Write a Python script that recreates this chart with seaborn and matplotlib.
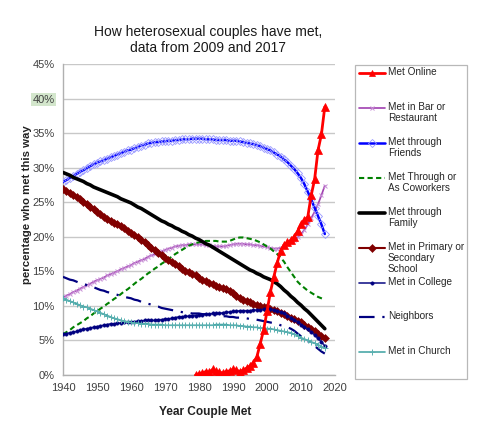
import matplotlib
matplotlib.use("Agg")
import matplotlib.pyplot as plt
import seaborn as sns
import pandas as pd
from matplotlib.lines import Line2D
from matplotlib.patches import Rectangle

# ---------------- data (percent, one value per year 1940..2017) ----------------
years = list(range(1940, 2018))

bar_restaurant = [11.2, 11.5, 11.7, 12.0, 12.2, 12.5, 12.7, 13.0, 13.2, 13.5,
                  13.7, 13.9, 14.1, 14.4, 14.6, 14.8, 15.0, 15.3, 15.5, 15.7,
                  15.9, 16.2, 16.4, 16.6, 16.8, 17.1, 17.3, 17.5, 17.7, 17.9,
                  18.1, 18.3, 18.4, 18.6, 18.7, 18.8, 18.8, 18.9, 18.9, 18.9,
                  18.9, 18.9, 18.8, 18.8, 18.7, 18.6, 18.6, 18.6, 18.7, 18.8,
                  18.9, 19.0, 19.0, 19.0, 18.9, 18.9, 18.8, 18.8, 18.7, 18.6,
                  18.5, 18.4, 18.3, 18.3, 18.4, 18.6, 18.9, 19.2, 19.5, 19.9,
                  20.4, 21.0, 21.8, 22.7, 23.6, 24.7, 26.0, 27.4]

friends = [27.9, 28.2, 28.5, 28.8, 29.1, 29.4, 29.6, 29.9, 30.2, 30.5,
           30.7, 30.9, 31.1, 31.3, 31.5, 31.7, 31.9, 32.1, 32.3, 32.5,
           32.6, 32.8, 33.0, 33.2, 33.3, 33.5, 33.6, 33.7, 33.7, 33.8,
           33.8, 33.9, 33.9, 34.0, 34.0, 34.1, 34.1, 34.1, 34.2, 34.2,
           34.2, 34.2, 34.1, 34.1, 34.1, 34.0, 34.0, 34.0, 34.0, 33.9,
           33.9, 33.9, 33.8, 33.7, 33.6, 33.5, 33.4, 33.3, 33.1, 32.9,
           32.7, 32.5, 32.2, 31.9, 31.6, 31.2, 30.8, 30.3, 29.8, 29.2,
           28.5, 27.6, 26.5, 25.4, 24.2, 23.0, 21.8, 20.4]

coworkers = [5.9, 6.2, 6.5, 6.9, 7.2, 7.5, 7.8, 8.2, 8.5, 8.9,
             9.2, 9.6, 9.9, 10.3, 10.6, 11.0, 11.3, 11.7, 12.1, 12.4,
             12.8, 13.2, 13.6, 13.9, 14.3, 14.7, 15.0, 15.4, 15.7, 16.1,
             16.4, 16.8, 17.1, 17.5, 17.8, 18.1, 18.4, 18.7, 18.9, 19.1,
             19.2, 19.3, 19.4, 19.4, 19.4, 19.4, 19.3, 19.3, 19.3, 19.4,
             19.6, 19.8, 19.9, 19.9, 19.8, 19.7, 19.6, 19.4, 19.2, 18.9,
             18.6, 18.3, 17.9, 17.5, 17.0, 16.4, 15.6, 14.9, 14.2, 13.5,
             13.0, 12.6, 12.2, 11.9, 11.6, 11.3, 11.1, 10.9]

family = [29.3, 29.1, 28.9, 28.6, 28.4, 28.2, 28.0, 27.7, 27.5, 27.2,
          27.0, 26.8, 26.6, 26.4, 26.2, 26.0, 25.8, 25.5, 25.3, 25.1,
          24.9, 24.6, 24.3, 24.1, 23.8, 23.5, 23.2, 22.9, 22.6, 22.3,
          22.1, 21.8, 21.6, 21.3, 21.1, 20.8, 20.6, 20.3, 20.1, 19.8,
          19.6, 19.3, 19.0, 18.8, 18.5, 18.2, 17.9, 17.6, 17.3, 17.0,
          16.7, 16.4, 16.1, 15.8, 15.5, 15.2, 15.0, 14.7, 14.5, 14.2,
          14.0, 13.8, 13.5, 13.2, 12.8, 12.3, 11.9, 11.4, 11.0, 10.5,
          10.1, 9.6, 9.2, 8.7, 8.2, 7.7, 7.2, 6.7]

school = [26.9, 26.6, 26.3, 26.0, 25.7, 25.4, 25.0, 24.7, 24.3, 24.0,
          23.6, 23.3, 22.9, 22.6, 22.3, 22.0, 21.8, 21.5, 21.2, 20.9,
          20.6, 20.3, 19.9, 19.6, 19.2, 18.8, 18.4, 18.1, 17.7, 17.4,
          17.0, 16.6, 16.3, 16.0, 15.7, 15.4, 15.1, 14.9, 14.6, 14.4,
          14.1, 13.8, 13.6, 13.3, 13.1, 12.9, 12.7, 12.6, 12.4, 12.1,
          11.8, 11.5, 11.2, 10.9, 10.7, 10.5, 10.3, 10.1, 10.0, 9.9,
          9.8, 9.6, 9.4, 9.2, 9.0, 8.8, 8.6, 8.3, 8.1, 7.8,
          7.6, 7.3, 7.0, 6.7, 6.3, 6.0, 5.6, 5.3]

college = [5.9, 6.0, 6.1, 6.2, 6.3, 6.5, 6.6, 6.7, 6.8, 6.9,
           7.0, 7.1, 7.2, 7.3, 7.4, 7.4, 7.5, 7.5, 7.6, 7.6,
           7.7, 7.7, 7.8, 7.8, 7.9, 7.9, 7.9, 7.9, 8.0, 8.0,
           8.1, 8.1, 8.2, 8.3, 8.4, 8.4, 8.5, 8.5, 8.6, 8.6,
           8.7, 8.7, 8.8, 8.8, 8.9, 8.9, 8.9, 9.0, 9.1, 9.1,
           9.2, 9.2, 9.3, 9.3, 9.3, 9.3, 9.4, 9.4, 9.4, 9.5,
           9.5, 9.5, 9.4, 9.3, 9.1, 8.9, 8.6, 8.3, 8.0, 7.7,
           7.3, 7.0, 6.6, 6.2, 5.8, 5.3, 4.8, 4.2]

neighbors = [14.2, 14.0, 13.8, 13.7, 13.5, 13.3, 13.2, 13.0, 12.8, 12.7,
             12.5, 12.3, 12.2, 12.0, 11.9, 11.7, 11.6, 11.4, 11.3, 11.2,
             11.1, 10.9, 10.8, 10.6, 10.5, 10.3, 10.2, 10.0, 9.9, 9.7,
             9.6, 9.5, 9.4, 9.3, 9.2, 9.1, 9.0, 9.0, 8.9, 8.9,
             8.9, 8.8, 8.8, 8.7, 8.7, 8.6, 8.6, 8.5, 8.5, 8.4,
             8.4, 8.3, 8.3, 8.2, 8.2, 8.1, 8.1, 8.0, 7.9, 7.8,
             7.7, 7.6, 7.5, 7.4, 7.2, 7.1, 6.9, 6.7, 6.4, 6.0,
             5.6, 5.3, 4.9, 4.6, 4.2, 3.8, 3.4, 3.1]

church = [11.1, 10.9, 10.7, 10.5, 10.3, 10.1, 9.9, 9.8, 9.6, 9.4,
          9.2, 9.0, 8.8, 8.6, 8.4, 8.2, 8.1, 7.9, 7.8, 7.7,
          7.6, 7.5, 7.5, 7.4, 7.4, 7.4, 7.3, 7.3, 7.3, 7.3,
          7.2, 7.2, 7.2, 7.2, 7.2, 7.2, 7.2, 7.2, 7.2, 7.2,
          7.2, 7.2, 7.2, 7.2, 7.2, 7.3, 7.3, 7.3, 7.3, 7.2,
          7.2, 7.2, 7.1, 7.1, 7.0, 7.0, 6.9, 6.9, 6.8, 6.8,
          6.7, 6.7, 6.6, 6.5, 6.4, 6.3, 6.2, 6.1, 5.9, 5.7,
          5.4, 5.2, 5.0, 4.8, 4.6, 4.4, 4.1, 3.9]

online_years = list(range(1979, 2018))
online = [0.0, 0.2, 0.3, 0.5, 0.4, 0.8, 0.6, 0.4, 0.3, 0.5,
          0.6, 0.8, 0.7, 0.5, 0.7, 1.0, 1.3, 1.8, 2.6, 4.5,
          6.5, 9.2, 12.0, 14.2, 16.2, 18.0, 18.8, 19.2, 19.5, 20.0,
          20.8, 21.8, 22.4, 22.9, 26.0, 28.3, 32.5, 34.8, 38.8]

labels = ["Met Online", "Met in Bar or\nRestaurant", "Met through\nFriends",
          "Met Through or\nAs Coworkers", "Met through\nFamily",
          "Met in Primary or\nSecondary\nSchool", "Met in College",
          "Neighbors", "Met in Church"]

x_ticks = [1940, 1950, 1960, 1970, 1980, 1990, 2000, 2010, 2020]
y_ticks = [0, 5, 10, 15, 20, 25, 30, 35, 40, 45]

# ---------------- styles ----------------
styles = [
    dict(color="#ff0000", lw=2.0, ls="-", marker="^", ms=6, mfc="#ff0000", mec="#ff0000", mew=0.5),
    dict(color="#a040b0", lw=1.2, ls="-", marker="x", ms=3.4, mfc="none", mec="#c88fd6", mew=0.7),
    dict(color="#0000ff", lw=1.8, ls="-", marker="D", ms=3.9, mfc="none", mec="#9a9aff", mew=0.6),
    dict(color="#008000", lw=1.5, ls=(0, (2.5, 1.6)), marker=None, ms=0, mfc="none", mec="none", mew=0),
    dict(color="#000000", lw=2.6, ls="-", marker=None, ms=0, mfc="none", mec="none", mew=0),
    dict(color="#800000", lw=1.5, ls="-", marker="D", ms=3.9, mfc="#800000", mec="#800000", mew=0.4),
    dict(color="#1c1c8c", lw=1.2, ls="-", marker="o", ms=2.5, mfc="#000080", mec="#000080", mew=0.3),
    dict(color="#000080", lw=1.6, ls=(0, (7, 3.5, 1, 3.5)), marker=None, ms=0, mfc="none", mec="none", mew=0),
    dict(color="#4aa8a8", lw=1.2, ls="-", marker="+", ms=3.8, mfc="none", mec="#5ab0b0", mew=0.7),
]

sns.set_theme(style="white")
plt.rcParams["font.family"] = ["Liberation Sans", "DejaVu Sans"]

W, H = 500, 434
fig = plt.figure(figsize=(W / 100, H / 100), dpi=100)
ax = fig.add_axes([63 / W, (H - 375) / H, (335 - 63) / W, (375 - 64) / H])

series = [online, bar_restaurant, friends, coworkers, family, school, college, neighbors, church]
xs = [online_years] + [years] * 8
order = [1, 2, 3, 4, 5, 6, 7, 8, 0]  # draw online last (on top)
for i in order:
    st = styles[i]
    df = pd.DataFrame({"year": xs[i], "pct": series[i]})
    kw = dict(color=st["color"], linewidth=st["lw"], linestyle=st["ls"])
    if st["marker"]:
        kw.update(marker=st["marker"], markersize=st["ms"], markerfacecolor=st["mfc"],
                  markeredgecolor=st["mec"], markeredgewidth=st["mew"])
    sns.lineplot(data=df, x="year", y="pct", ax=ax, legend=False, zorder=3 + (i == 0), **kw)

ax.set_xlim(1940, 2020)
ax.set_ylim(0, 45)
ax.set_xticks(x_ticks)
ax.set_yticks(y_ticks)
ax.set_xticklabels([str(t) for t in x_ticks])
ax.set_yticklabels([f"{t}%" for t in y_ticks])
ax.yaxis.grid(True, color="#c8c8c8", linewidth=1.0)
ax.xaxis.grid(False)
for s in ["top", "right"]:
    ax.spines[s].set_visible(False)
for s in ["left", "bottom"]:
    ax.spines[s].set_color("#b0b0b0")
    ax.spines[s].set_linewidth(1.0)
ax.tick_params(axis="both", which="both", direction="out", length=4, width=1,
               color="#b0b0b0", labelsize=8.0, labelcolor="#404040", pad=2)
ax.set_axisbelow(True)

# highlighted 40% label
for lab in ax.get_yticklabels():
    if lab.get_text() == "40%":
        lab.set_bbox(dict(boxstyle="square,pad=0.15", facecolor="#d3e6cc", edgecolor="none"))

ax.set_xlabel("Year Couple Met", fontsize=8.6, fontweight="bold", color="#222222")
ax.set_ylabel("percentage who met this way", fontsize=8.2, fontweight="bold", color="#222222")
ax.xaxis.set_label_coords((205 - 63) / 272, (375 - 406) / 311)
ax.yaxis.set_label_coords((32 - 63) / 272, (375 - 205) / 311)

fig.text(208 / W, 1 - 40 / H, "How heterosexual couples have met,\ndata from 2009 and 2017",
         ha="center", va="center", fontsize=10.0, color="#1a1a1a", linespacing=1.1)

# ---------------- legend ----------------
fig.patches.append(Rectangle((355 / W, 1 - 379 / H), (467 - 355) / W, (379 - 65) / H,
                             transform=fig.transFigure, facecolor="white",
                             edgecolor="#b8b8b8", linewidth=0.9, zorder=1))
entry_y = [73, 108, 143, 178, 213, 248, 283, 317, 352]
for st, lab, yp in zip(styles, labels, entry_y):
    yf = 1 - yp / H
    ln = Line2D([359 / W, 385 / W], [yf, yf], transform=fig.transFigure,
                color=st["color"], linewidth=st["lw"], linestyle=st["ls"], zorder=2)
    fig.lines.append(ln)
    if st["marker"]:
        mk = Line2D([372 / W], [yf], transform=fig.transFigure, linestyle="none",
                    marker=st["marker"], markersize=min(st["ms"], 4.5), markerfacecolor=st["mfc"],
                    markeredgecolor=st["mec"], markeredgewidth=st["mew"], zorder=3)
        fig.lines.append(mk)
    fig.text(388 / W, 1 - (yp - 6) / H, lab, ha="left", va="top", fontsize=7.2,
             color="#262626", linespacing=1.15, zorder=3)

fig.savefig("out.png", dpi=100, facecolor="white")
